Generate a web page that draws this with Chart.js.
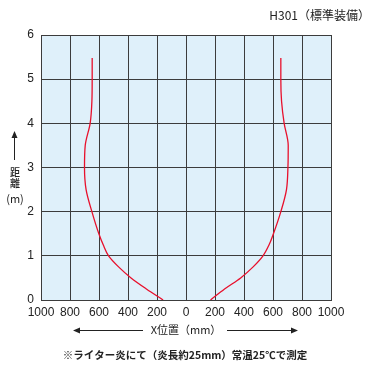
<!DOCTYPE html>
<html>
<head>
<meta charset="utf-8">
<script src="https://cdn.jsdelivr.net/npm/chart.js@4/dist/chart.umd.min.js"></script>
<style>
  html, body { margin: 0; padding: 0; background: #fff; }
  #wrap { width: 370px; height: 370px; position: relative; }
</style>
</head>
<body>
<div id="wrap"><canvas id="chart" width="370" height="370"></canvas></div>
<script>
// distance (m) and the flame detection boundary at each height
var distY  = [0, 0.25, 0.5, 0.75, 1.0, 1.25, 1.5, 2.0, 2.5, 3.0, 3.5, 4.0, 4.5, 5.0, 5.48];
var leftX  = [-158, -273, -379, -465, -534, -571, -601, -649, -689, -700, -695, -661, -649, -647, -647];
var rightX = [169, 266, 377, 463, 531, 573, 603, 654, 693, 703, 705, 677, 659, 654, 654];
var xTicks = [-1000, -800, -600, -400, -200, 0, 200, 400, 600, 800, 1000];
var yTicks = [0, 1, 2, 3, 4, 5, 6];

var chartTitle = 'H301（標準装備）';
var xTitle = 'X位置（mm）';
var yTitle = ['距', '離', '(m)'];
var footNote = '※ライター炎にて（炎長約25mm）常温25℃で測定';

function toPoints(xs, ys) {
  return xs.map(function (x, i) { return { x: x, y: ys[i] }; });
}

var jpFont = '"Noto Sans CJK JP", "Noto Sans", sans-serif';

// light blue plot background + extra texts and arrows
var decor = {
  id: 'decor',
  beforeDraw: function (chart) {
    var a = chart.chartArea, ctx = chart.ctx;
    ctx.save();
    ctx.fillStyle = '#dff0fa';
    ctx.fillRect(a.left, a.top, a.right - a.left, a.bottom - a.top);
    ctx.restore();
  },
  afterDraw: function (chart) {
    var ctx = chart.ctx;
    ctx.save();
    ctx.fillStyle = '#222';
    ctx.strokeStyle = '#222';
    ctx.textBaseline = 'middle';

    ctx.font = '12px ' + jpFont;
    ctx.textAlign = 'right';
    ctx.fillText(chartTitle, 370, 15);

    // x axis title with arrows
    ctx.textAlign = 'center';
    ctx.font = '11px ' + jpFont;
    ctx.fillText(xTitle, 186, 330);
    ctx.lineWidth = 1;
    ctx.beginPath();
    ctx.moveTo(76, 330.5); ctx.lineTo(143, 330.5);
    ctx.moveTo(227, 330.5); ctx.lineTo(295, 330.5);
    ctx.stroke();
    ctx.beginPath();
    ctx.moveTo(73, 330.5); ctx.lineTo(80, 327.5); ctx.lineTo(80, 333.5); ctx.closePath();
    ctx.moveTo(298, 330.5); ctx.lineTo(291, 327.5); ctx.lineTo(291, 333.5); ctx.closePath();
    ctx.fill();

    // y axis title with arrow
    ctx.beginPath();
    ctx.moveTo(14.5, 135); ctx.lineTo(14.5, 160);
    ctx.stroke();
    ctx.beginPath();
    ctx.moveTo(14.5, 131); ctx.lineTo(11.5, 138); ctx.lineTo(17.5, 138); ctx.closePath();
    ctx.fill();
    ctx.font = '500 10px ' + jpFont;
    ctx.fillText(yTitle[0], 15, 172);
    ctx.fillText(yTitle[1], 15, 183.5);
    ctx.font = '11px ' + jpFont;
    ctx.fillText(yTitle[2], 15, 199);

    ctx.font = 'bold 10.5px ' + jpFont;
    ctx.fillText(footNote, 185, 355);
    ctx.restore();
  }
};

var lineStyle = {
  showLine: true,
  borderColor: '#e8102c',
  borderWidth: 1.3,
  pointRadius: 0,
  cubicInterpolationMode: 'monotone',
  fill: false
};

new Chart(document.getElementById('chart').getContext('2d'), {
  type: 'scatter',
  data: {
    datasets: [
      Object.assign({ label: 'left', data: toPoints(leftX, distY) }, lineStyle),
      Object.assign({ label: 'right', data: toPoints(rightX, distY) }, lineStyle)
    ]
  },
  options: {
    responsive: false,
    animation: false,
    indexAxis: 'y',
    layout: { padding: { top: 35, right: 39, left: 0, bottom: 0 } },
    plugins: {
      legend: { display: false },
      tooltip: { enabled: false }
    },
    scales: {
      x: {
        type: 'linear',
        min: xTicks[0],
        max: xTicks[xTicks.length - 1],
        afterBuildTicks: function (s) { s.ticks = xTicks.map(function (v) { return { value: v }; }); },
        afterFit: function (s) { s.height = 70; },
        grid: { color: '#3c3c3c', lineWidth: 1, drawTicks: false },
        border: { color: '#3c3c3c', width: 1 },
        ticks: {
          padding: 5,
          maxRotation: 0,
          autoSkip: false,
          color: '#222',
          font: { family: '"Liberation Sans", Arial, sans-serif', size: 12 },
          callback: function (v) { return Math.abs(v); }
        }
      },
      y: {
        type: 'linear',
        min: yTicks[0],
        max: yTicks[yTicks.length - 1],
        afterBuildTicks: function (s) { s.ticks = yTicks.map(function (v) { return { value: v }; }); },
        afterFit: function (s) { s.width = 41; },
        grid: { color: '#3c3c3c', lineWidth: 1, drawTicks: false },
        border: { color: '#3c3c3c', width: 1 },
        ticks: {
          padding: 7,
          color: '#222',
          font: { family: '"Liberation Sans", Arial, sans-serif', size: 12 }
        }
      }
    }
  },
  plugins: [decor]
});
</script>
</body>
</html>
